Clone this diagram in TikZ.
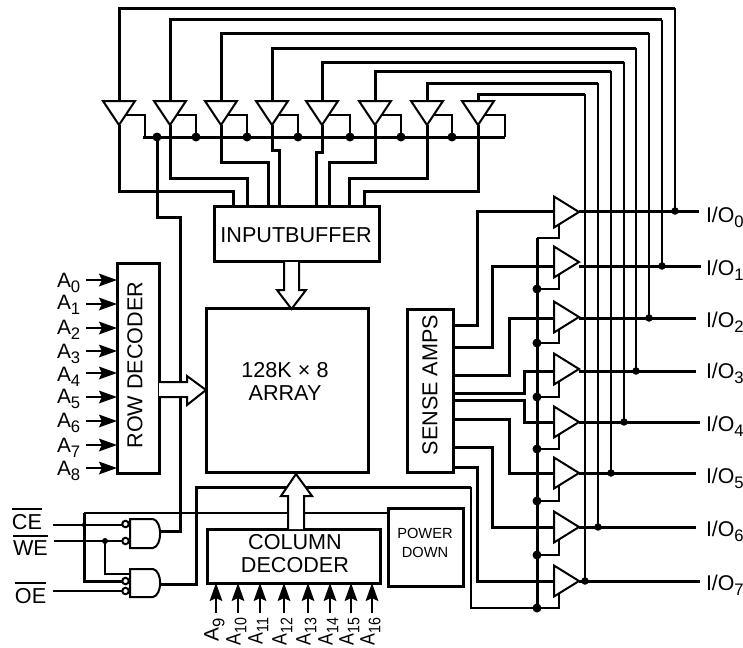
\documentclass[tikz,border=0pt]{standalone}
\usepackage{graphicx}
\usepackage{fontspec}
\setmainfont{Liberation Sans}
\usetikzlibrary{arrows.meta}
\newcommand\sbs[1]{\raisebox{-0.28em}{\fontsize{12.5}{12.5}\selectfont #1}}
\newcommand\ovl[1]{\leavevmode\vbox{\hrule height 1.6pt \kern2.6pt\hbox{#1}}}
\def\u{0.75pt}
\tikzset{
  thk/.style={line width=2.25pt},
  med/.style={line width=1.5pt},
  box/.style={draw,thk,fill=white,inner sep=0pt,outer sep=0pt},
  lbl/.style={inner sep=0pt,outer sep=0pt,font=\fontsize{16.2}{17.25}\selectfont,align=center},
  alab/.style={inner sep=0pt,outer sep=0pt,font=\fontsize{15.6}{17}\selectfont},
  blockarrow/.style={med,fill=white,line join=miter},
  dotb/.style={fill=black,draw=none,circle,inner sep=0pt,minimum size=9*\u},
  dotc/.style={fill=black,draw=none,circle,inner sep=0pt,minimum size=7.5*\u},
  tri/.style={med,fill=white,line join=miter},
  ain/.style={med,-{Stealth[length=13.5pt,width=9.5pt,inset=2.2pt]}},
  bubble/.style={draw,med,fill=white,circle,inner sep=0pt,minimum size=6.5*\u},
}
\begin{document}
\begin{tikzpicture}[x=0.75pt,y=-0.75pt]
\useasboundingbox (0,0) rectangle (743,647);

% ---------- named points: upper drivers (index / centre x / top run y / right rail x / tail y / tail x / enable x)
\foreach \i/\x/\ty/\rx/\ry/\px/\ex in {
  0/119/8/675/191/233/145, 1/170/19.5/662/178/247/196, 2/221/33/649/162/268/247, 3/272/48/636/150/279/298,
  4/322/62/624/152/316/350, 5/375/71/611/162/329/401, 6/427/83/598/178/349/452, 7/478/94/585/191/364/505}{
  \coordinate (b\i) at (\x,101);
  \coordinate (a\i) at (\x,125);
  \coordinate (s\i) at (\x+7,115);
  \coordinate (e\i) at (\ex,115);
  \coordinate (en\i) at (\ex,137);
  \coordinate (c\i) at (\rx,\ty);
  \coordinate (r\i) at (\px,\ry);
  \coordinate (p\i) at (\px,206);
}
% ---------- named points: lower drivers (index / tip y / line y / line end x / rail-label baseline)
\foreach \i/\c/\l/\oe/\be in {
  0/212/211/699/238, 1/262/266/701/289, 2/317/318/696/343, 3/369/371/696/397,
  4/422/422/700/449, 5/473/473/696/501, 6/527/527/696/555, 7/581/581/700/608}{
  \coordinate (tip\i) at (579,\c);
  \coordinate (in\i) at (554,\l);
  \coordinate (ot\i) at (\oe,\l);
  \coordinate (bs\i) at (537,\be);
  \coordinate (st\i) at (559,\c+11);
}
% sense-amp side connections
\foreach \i/\y/\x in {0/325/477,1/347/492,2/375/509,3/393/524,4/400/524,5/419/509,6/447/492,7/467/477}{
  \coordinate (sa\i) at (453,\y);
  \coordinate (sb\i) at (\x,\y);
}
\foreach \i/\x/\y in {0/675/211,1/662/266,2/649/318,3/636/371,4/624/422,5/611/473,6/598/527,7/585/581}{
  \coordinate (j\i) at (\x,\y);
}
\coordinate (busL) at (143,137);
\coordinate (busR) at (505,137);
\coordinate (railT) at (537,238);
\coordinate (railB) at (537,608);
\coordinate (ceA) at (53,525);
\coordinate (ceB) at (122,525);
\coordinate (ceJ) at (84,525);
\coordinate (weA) at (54,541);
\coordinate (weB) at (122,541);
\coordinate (weJ) at (105,541);
\coordinate (oeA) at (53,591);
\coordinate (oeB) at (122,591);
\coordinate (ceT) at (84,512.5);
\coordinate (ceL) at (84,581);
\coordinate (ceG) at (122,581);
\coordinate (weL) at (105,574);
\coordinate (weG) at (129,574);
\coordinate (pdL) at (390,512.5);
\coordinate (g1o) at (160,531);
\coordinate (g2o) at (160,584);
\coordinate (g1r) at (180,531);
\coordinate (g1u) at (180,217);
\coordinate (busJ) at (157,137);
\coordinate (busD) at (157,217);
\coordinate (g2r) at (196,584);
\coordinate (g2u) at (196,487);
\coordinate (oeLine) at (471,487);
\coordinate (oeLow) at (471,608);

% ---------- wiring
\foreach \i in {0,...,7}{
  \draw[thk] (b\i) |- (c\i);
  \draw[med] (c\i) -- (j\i);
  \draw[thk] (a\i) |- (r\i) -- (p\i);
  \draw[med] (s\i) -- (e\i) -- (en\i);
  \draw[thk] (sa\i) -- (sb\i) |- (in\i);
  \draw[thk] (tip\i |- in\i) -- (ot\i);
  \draw[med] (st\i) -- (st\i |- bs\i) -- (bs\i);
}
\draw[thk] (busL) -- (busR);
\draw[med] (busR) -- (e7);
\draw[thk] (railT) -- (railB);
\draw[thk] (busJ) -- (busD) -- (g1u) -- (g1r) -- (g1o);
\draw[thk] (g2o) -- (g2r) -- (g2u) -- (oeLine);
\draw[med] (oeLine) -- (oeLow) -- (bs7);
\draw[med] (ceA) -- (ceB);
\draw[med] (weA) -- (weB);
\draw[med] (oeA) -- (oeB);
\draw[med] (weJ) -- (weL) -- (weG);
\draw[med] (ceT) -- (pdL);
\draw[thk] (ceT) -- (ceL) -- (ceG);

% ---------- junction dots
\foreach \n in {busJ,en1,en2,en3,en4,en5,en6}{\node[dotb] (d\n) at (\n) {};}
\foreach \n in {1,...,7}{\node[dotb] (dr\n) at (bs\n) {};}
\foreach \n in {0,...,7}{\node[dotc] (dj\n) at (j\n) {};}
\node[fill=black,circle,inner sep=0pt,minimum size=4.5*\u] (dce) at (ceJ) {};
\node[fill=black,circle,inner sep=0pt,minimum size=6*\u] (dwe) at (weJ) {};

% ---------- buffers
\foreach \x in {119,170,221,272,322,375,427,478}{
  \draw[tri] (\x-16,101) -- (\x+16,101) -- (\x,125) -- cycle;
}
\foreach \c in {212,262,317,369,422,473,527,581}{
  \draw[tri] (554,\c-15.5) -- (579,\c) -- (554,\c+15.5) -- cycle;
}

% ---------- blocks
\node[box,minimum width=165*\u,minimum height=55*\u] (ib) at (296.5,234) {};
\node[lbl] (ibt) at (296,235) {INPUTBUFFER};
\node[box,minimum width=162*\u,minimum height=164*\u] (arr) at (287,390) {};
\node[lbl] (arrt) at (285,381.5) {128K × 8\\ARRAY};
\node[box,minimum width=42*\u,minimum height=210*\u] (rd) at (138,368) {};
\node[lbl,rotate=90] (rdt) at (135,365) {ROW DECODER};
\node[box,minimum width=46*\u,minimum height=163*\u] (sa) at (430,390.5) {};
\node[lbl,rotate=90] (sat) at (430,385) {SENSE AMPS};
\node[box,minimum width=173*\u,minimum height=54*\u] (cd) at (293.5,556) {};
\node[lbl] (cdt) at (295,553.5) {COLUMN\\DECODER};
\node[box,minimum width=75*\u,minimum height=78*\u] (pd) at (425.5,547) {};
\node[lbl,font=\fontsize{11}{14.25}\selectfont] (pdt) at (425,542.5) {POWER\\DOWN};

% ---------- wide arrows
\draw[blockarrow] (284,262) -- (284,290) -- (277,290) -- (291.5,309) -- (306,290) -- (299,290) -- (299,262);
\draw[blockarrow] (159,382) -- (187,382) -- (187,376) -- (206,390) -- (187,405) -- (187,397) -- (159,397);
\draw[blockarrow] (288,529) -- (288,496) -- (281,496) -- (296,474) -- (312,496) -- (304,496) -- (304,529);

% ---------- gates
\foreach \t/\b in {519/548,569/597}{
  \draw[med,fill=white,line join=miter] (130,\t) -- (153,\t) .. controls (162.5,\t+2) and (162.5,\b-2) .. (153,\b) -- (130,\b) -- cycle;
}
\node[bubble] (b1) at (125.5,524) {};
\node[bubble] (b2) at (125.5,541) {};
\node[bubble] (b3) at (125.5,581) {};
\node[bubble] (b4) at (125.5,591) {};

% ---------- address inputs
\foreach \i/\y/\b in {0/280/287,1/304/309,2/328/334,3/351/358,4/373/381,5/397/403,6/421/427,7/445/452,8/468/475}{
  \coordinate (ra\i) at (86,\y);
  \coordinate (rb\i) at (117,\y);
  \draw[ain] (ra\i) -- (rb\i);
  \node[alab,anchor=base west] (al\i) at (57,\b) {A\sbs{\i}};
}
\foreach \n/\x/\s in {9/216/1,10/238/0.85,11/260/0.85,12/284/0.85,13/308/0.85,14/330/0.85,15/351/0.85,16/372/0.85}{
  \coordinate (ca\n) at (\x,613);
  \coordinate (cb\n) at (\x,583);
  \draw[ain] (ca\n) -- (cb\n);
  \node[alab,rotate=90,anchor=base east] (cl\n) at (\x+2.5,618) {\scalebox{\s}[1]{A\sbs{\n}}};
}

% ---------- I/O labels
\foreach \i/\b in {0/222,1/275,2/327,3/378,4/431,5/483,6/536,7/590}{
  \node[lbl,anchor=base west,font=\fontsize{16}{17}\selectfont] (io\i) at (706,\b) {I/O\sbs{\i}};
}

% ---------- control labels
\node[lbl,anchor=base west] (ce) at (12,529) {\ovl{CE}};
\node[lbl,anchor=base west] (we) at (13,555) {\ovl{WE}};
\node[lbl,anchor=base west] (oe) at (15,603) {\ovl{OE}};
\end{tikzpicture}
\end{document}
